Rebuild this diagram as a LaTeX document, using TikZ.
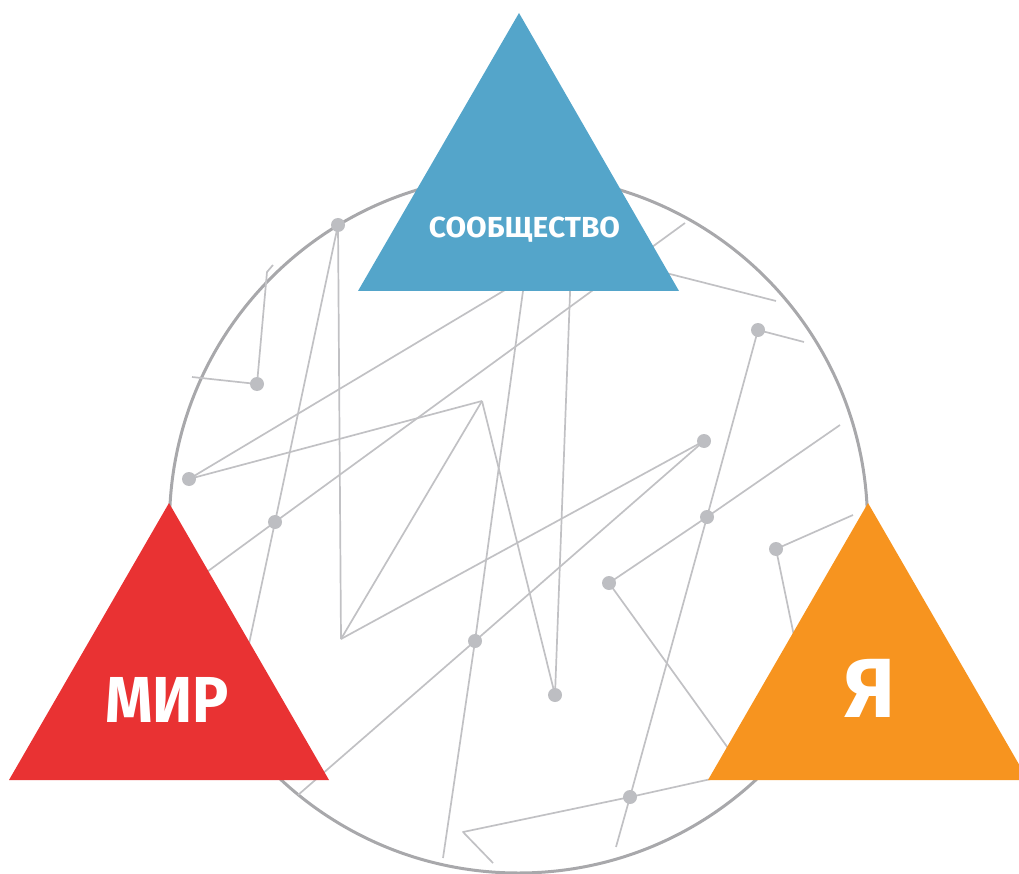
\documentclass[tikz,border=0pt]{standalone}
\usepackage{fontspec}
\newfontfamily\labfont{Fira Sans}
\definecolor{ringc}{HTML}{A8A8AB}
\definecolor{linec}{HTML}{C1C1C4}
\definecolor{dotc}{HTML}{BDBEC2}
\definecolor{blueT}{HTML}{54A5CA}
\definecolor{redT}{HTML}{E93233}
\definecolor{orangeT}{HTML}{F7941F}
\begin{document}
\begin{tikzpicture}[x=1pt,y=-1pt,
  net/.style={draw=linec,line width=1.7pt,line join=round},
  dotn/.style={circle,fill=dotc,inner sep=0pt,minimum size=14pt},
  ring/.style={draw=ringc,line width=3pt},
  lab/.style={text=white,font=\labfont\bfseries,inner sep=0pt}]
\clip (0,0) rectangle (1019,874);
\useasboundingbox (0,0) rectangle (1019,874);
% ring
\node[circle,minimum size=698pt,inner sep=0pt,ring] (ring) at (518.5,524) {};
% coordinates
\coordinate (D1) at (338,225);
\coordinate (D2) at (257,384);
\coordinate (D3) at (189,479);
\coordinate (D4) at (275,522);
\coordinate (D5) at (758,330);
\coordinate (D6) at (704,441);
\coordinate (D7) at (707,517);
\coordinate (D8) at (776,549);
\coordinate (D9) at (609,583);
\coordinate (D10) at (475,641);
\coordinate (D11) at (555,695);
\coordinate (D12) at (630,797);
\coordinate (V1) at (482,401);
\coordinate (V2) at (341,639);
\coordinate (V3) at (463,832);
\coordinate (T1) at (273,265);
\coordinate (T2) at (267,272);
\coordinate (L1) at (192,377);
\coordinate (E1) at (237,700);
\coordinate (B1) at (515,284);
\coordinate (S1) at (200,577);
\coordinate (S2) at (685,223);
\coordinate (B2) at (570.5,280);
\coordinate (B3) at (524.5,280);
\coordinate (E2) at (443,858);
\coordinate (E3) at (298,795);
\coordinate (E4) at (840,425);
\coordinate (E5) at (616,847);
\coordinate (E6) at (804,342);
\coordinate (B4) at (662,272);
\coordinate (E7) at (776,301);
\coordinate (E8) at (853,515);
\coordinate (E9) at (800,665);
\coordinate (E10) at (746,773);
\coordinate (E11) at (720,777);
\coordinate (E12) at (493,863);
% network lines
\draw[net] (T1) -- (T2) -- (D2) -- (L1);
\draw[net] (D1) -- (V2);
\draw[net] (D1) -- (D4) -- (E1);
\draw[net] (D3) -- (B1);
\draw[net] (D3) -- (V1);
\draw[net] (S1) -- (D4) -- (S2);
\draw[net] (V1) -- (V2);
\draw[net] (V1) -- (D11);
\draw[net] (V2) -- (D6);
\draw[net] (D11) -- (B2);
\draw[net] (B3) -- (D10) -- (E2);
\draw[net] (D10) -- (D6);
\draw[net] (D10) -- (E3);
\draw[net] (D7) -- (E4);
\draw[net] (D7) -- (D9);
\draw[net] (D5) -- (D7) -- (D12) -- (E5);
\draw[net] (D5) -- (E6);
\draw[net] (B4) -- (E7);
\draw[net] (D8) -- (E8);
\draw[net] (D8) -- (E9);
\draw[net] (D9) -- (E10);
\draw[net] (D12) -- (E11);
\draw[net] (D12) -- (V3) -- (E12);
% dots
\foreach \d in {D1,D2,D3,D4,D5,D6,D7,D8,D9,D10,D11,D12}
  \node[dotn] (n\d) at (\d) {};
% triangles
\coordinate (bA) at (519,13);
\coordinate (bL) at (358,291);
\coordinate (bR) at (679,291);
\coordinate (rA) at (169,503);
\coordinate (rL) at (9,780);
\coordinate (rR) at (329,780);
\coordinate (oA) at (868,503);
\coordinate (oL) at (708,780);
\coordinate (oR) at (1028,780);
\fill[blueT] (bA) -- (bL) -- (bR) -- cycle;
\fill[redT] (rA) -- (rL) -- (rR) -- cycle;
\fill[orangeT] (oA) -- (oL) -- (oR) -- cycle;
% labels
\node[lab,font=\labfont\bfseries\fontsize{29}{29}\selectfont,xscale=1.03] (tS) at (524.5,230) {СООБЩЕСТВО};
\node[lab,font=\labfont\bfseries\fontsize{65}{65}\selectfont,xscale=0.93] (tM) at (167,700) {МИР};
\node[lab,font=\labfont\bfseries\fontsize{84}{84}\selectfont] (tY) at (870,688) {Я};
\end{tikzpicture}
\end{document}
